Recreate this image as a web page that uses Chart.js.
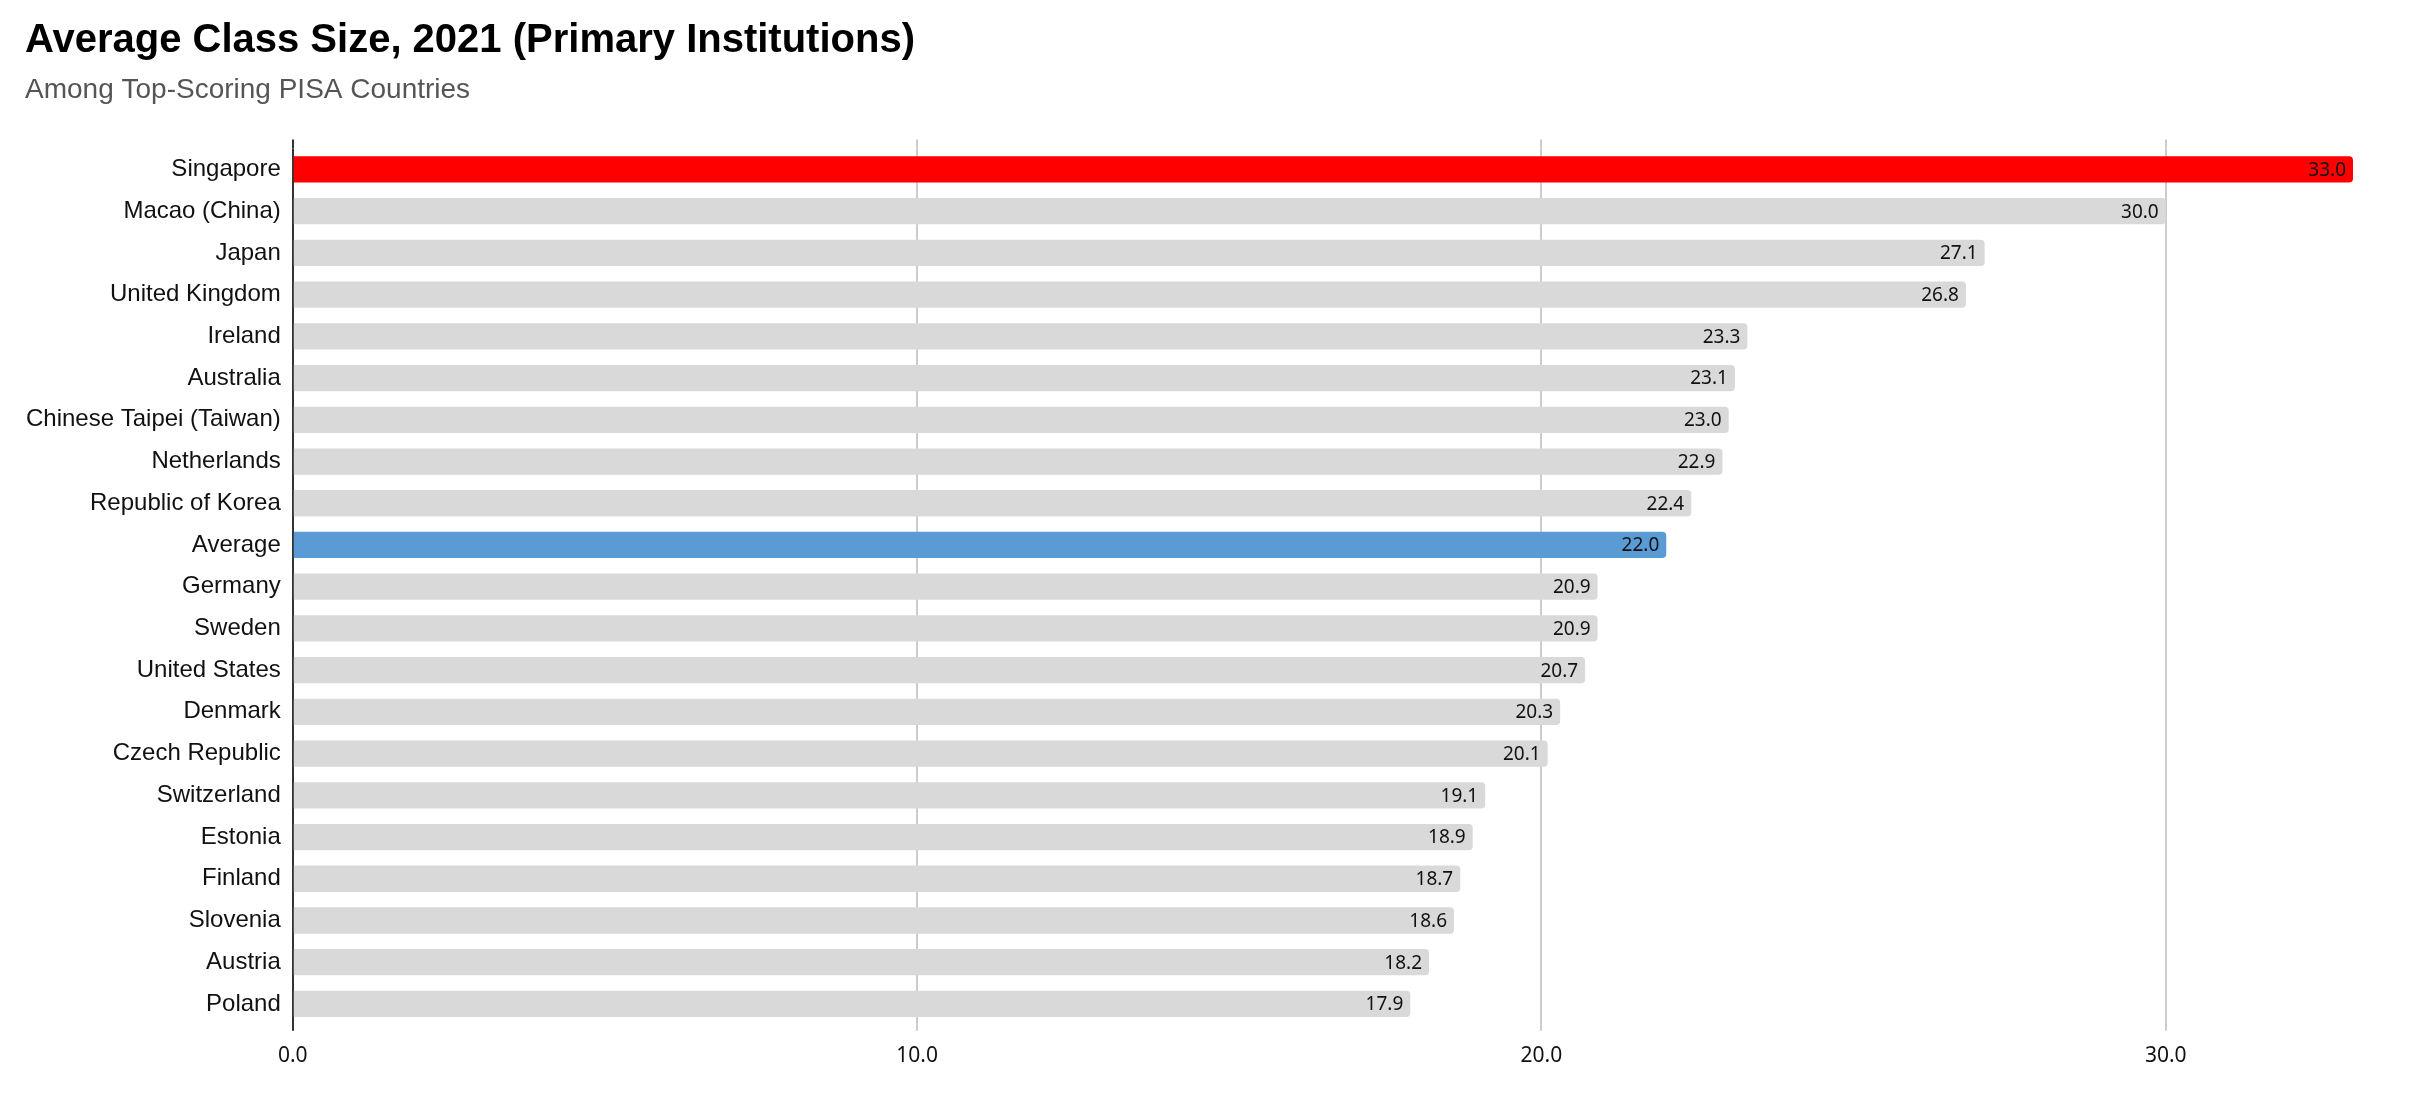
<!DOCTYPE html>
<html>
<head>
<meta charset="utf-8">
<script src="https://cdn.jsdelivr.net/npm/chart.js@4.4.1/dist/chart.umd.min.js"></script>
<style>
  body { margin: 0; background: #fff; }
  #wrap { width: 2414px; height: 1114px; }
</style>
</head>
<body>
<div id="wrap"><canvas id="classChart" width="2414" height="1114"></canvas></div>
<script>
// data
const countries = ['Singapore', 'Macao (China)', 'Japan', 'United Kingdom', 'Ireland', 'Australia',
    'Chinese Taipei (Taiwan)', 'Netherlands', 'Republic of Korea', 'Average', 'Germany', 'Sweden',
    'United States', 'Denmark', 'Czech Republic', 'Switzerland', 'Estonia', 'Finland', 'Slovenia',
    'Austria', 'Poland'];
const classSize = [33.0, 30.0, 27.1, 26.8, 23.3, 23.1, 23.0, 22.9, 22.4, 22.0, 20.9, 20.9,
    20.7, 20.3, 20.1, 19.1, 18.9, 18.7, 18.6, 18.2, 17.9];
const xTicks = [0, 10, 20, 30];

const barColors = countries.map(function (c) {
    if (c === 'Singapore') return '#ff0000';
    if (c === 'Average') return '#5b9bd5';
    return '#d9d9d9';
});

// value labels at the end of each bar
const valueLabels = {
    id: 'valueLabels',
    afterDatasetsDraw(chart) {
        const ctx = chart.ctx;
        const meta = chart.getDatasetMeta(0);
        ctx.save();
        ctx.font = '19px "Noto Sans"';
        ctx.fillStyle = '#111';
        ctx.textAlign = 'right';
        ctx.textBaseline = 'middle';
        meta.data.forEach(function (bar, i) {
            ctx.fillText(classSize[i].toFixed(1), bar.x - 7, bar.y + 1);
        });
        ctx.restore();
    }
};

// grid lines run a little above the plot area
const gridTop = {
    id: 'gridTop',
    beforeDatasetsDraw(chart) {
        const ctx = chart.ctx;
        const x = chart.scales.x;
        const top = chart.chartArea.top;
        ctx.save();
        ctx.lineWidth = 2;
        x.ticks.forEach(function (t) {
            const px = Math.round(x.getPixelForValue(t.value));
            ctx.strokeStyle = t.value === 0 ? '#333' : '#cccccc';
            ctx.beginPath();
            ctx.moveTo(px, top - 9);
            ctx.lineTo(px, top);
            ctx.stroke();
        });
        ctx.restore();
    }
};

const ctx = document.getElementById('classChart').getContext('2d');
const chart = new Chart(ctx, {
    type: 'bar',
    data: {
        labels: countries,
        datasets: [{
            data: classSize,
            backgroundColor: barColors,
            borderRadius: 4,
            barPercentage: 0.63,
            categoryPercentage: 1.0
        }]
    },
    options: {
        indexAxis: 'y',
        responsive: false,
        animation: false,
        layout: { padding: { left: 25, right: 61, top: 0, bottom: 32 } },
        plugins: {
            legend: { display: false },
            tooltip: { enabled: false },
            title: {
                display: true,
                text: 'Average Class Size, 2021 (Primary Institutions)',
                align: 'start',
                color: '#000',
                font: { family: '"Liberation Sans", Arial', size: 40, weight: 'bold', lineHeight: 1.2 },
                padding: { top: 17, bottom: 8 }
            },
            subtitle: {
                display: true,
                text: 'Among Top-Scoring PISA Countries',
                align: 'start',
                color: '#555',
                font: { family: '"Liberation Sans", Arial', size: 28, lineHeight: 1.2 },
                padding: { top: 0, bottom: 42 }
            }
        },
        scales: {
            x: {
                min: 0,
                max: 33,
                afterBuildTicks: function (scale) {
                    scale.ticks = xTicks.map(function (v) { return { value: v }; });
                },
                grid: {
                    color: function (c) { return c.tick && c.tick.value === 0 ? '#333' : '#cccccc'; },
                    lineWidth: 2,
                    drawTicks: true,
                    tickLength: 6
                },
                border: { display: false },
                ticks: {
                    color: '#111',
                    padding: 13,
                    font: { family: '"Noto Sans"', size: 21 },
                    callback: function (v) { return Number(v).toFixed(1); }
                }
            },
            y: {
                afterFit: function (scale) {
                    scale.width -= 11;
                },
                grid: { display: false, drawTicks: false },
                border: { display: false },
                ticks: {
                    color: '#111',
                    padding: 12,
                    font: { family: '"Liberation Sans", Arial', size: 24 }
                }
            }
        }
    },
    plugins: [valueLabels, gridTop]
});
</script>
</body>
</html>
